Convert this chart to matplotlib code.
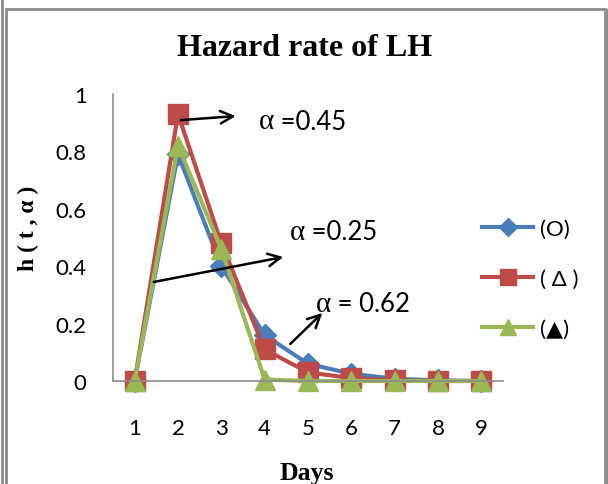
import matplotlib
matplotlib.use("Agg")
import matplotlib.pyplot as plt
from matplotlib.patches import Rectangle
from matplotlib.lines import Line2D

days = [1, 2, 3, 4, 5, 6, 7, 8, 9]
h_circle = [0, 0.79, 0.40, 0.16, 0.06, 0.025, 0.008, 0.002, 0.0]
h_delta = [0, 0.93, 0.48, 0.11, 0.03, 0.01, 0.002, 0.0, 0.0]
h_tri = [0, 0.82, 0.46, 0.005, 0.0, 0.0, 0.0, 0.0, 0.0]
labels = ["(O)", "( \u0394 )", "(\u25b2)"]
y_ticks = [0, 0.2, 0.4, 0.6, 0.8, 1]

SANS = ["Lato", "DejaVu Sans"]
SERIF = "Liberation Serif"

fig = plt.figure(figsize=(6.08, 4.85), dpi=100)
ax = fig.add_axes([113 / 608, 1 - 382 / 485, 390 / 608, 287 / 485])

ax.plot(days, h_circle, color="#4A7EBB", lw=3, marker="D", markersize=11, label=labels[0], clip_on=False)
ax.plot(days, h_delta, color="#BE4B48", lw=3, marker="s", markersize=14, label=labels[1], clip_on=False)
ax.plot(days, h_tri, color="#98B954", lw=3, marker="^", markersize=14, label=labels[2], clip_on=False)

ax.set_xlim(0.5, 9.5)
ax.set_ylim(0, 1)
ax.set_xticks(days)
ax.set_yticks(y_ticks)
ax.set_yticklabels(["0", "0.2", "0.4", "0.6", "0.8", "1"])
for s in ["top", "right"]:
    ax.spines[s].set_visible(False)
for s in ["left", "bottom"]:
    ax.spines[s].set_color("#8c8c8c")
    ax.spines[s].set_linewidth(1.2)
ax.tick_params(axis="both", length=0, labelsize=16)
ax.tick_params(axis="x", pad=27)
ax.tick_params(axis="y", pad=19)
for t in ax.get_xticklabels() + ax.get_yticklabels():
    t.set_family(SANS)

# annotations
arrow = dict(arrowstyle="->,head_length=0.9,head_width=0.45", lw=1.8, color="black",
             shrinkA=0, shrinkB=0)
notes = [
    ("=0.45", (3.33, 0.923), (2.06, 0.909), (3.86, 0.905)),
    ("=0.25", (4.43, 0.432), (1.44, 0.345), (4.59, 0.52)),
    ("= 0.62", (5.33, 0.237), (4.59, 0.129), (5.19, 0.27)),
]
for txt, head, tail, pos in notes:
    ax.annotate("", xy=head, xytext=tail, arrowprops=arrow)
    a = ax.text(pos[0], pos[1], "\u03b1", family=SERIF, fontsize=21, ha="left", va="center")
    ax.annotate(" " + txt, xy=(1, 0.5), xycoords=a, xytext=(0, 0), textcoords="offset points",
                family=SANS, fontsize=18.5, ha="left", va="center")

leg = ax.legend(loc="center left", bbox_to_anchor=(462 / 608, 1 - 280 / 485),
                bbox_transform=fig.transFigure, frameon=False, prop={"family": SANS, "size": 16},
                handlelength=2.3, handletextpad=0.3, labelspacing=1.35)
for h, ms in zip(leg.legend_handles, [9, 11, 11]):
    h.set_markersize(ms)

fig.text(305 / 608, 1 - 48 / 485, "Hazard rate of LH", family=SERIF, weight="bold",
         fontsize=23, ha="center", va="center")
fig.text(28 / 608, 1 - 228 / 485, "h ( t , \u03b1 )", family=SERIF, weight="bold",
         fontsize=17, ha="center", va="center", rotation=90)
fig.text(307 / 608, 1 - 474 / 485, "Days", family=SERIF, weight="bold",
         fontsize=18.5, ha="center", va="center")

# double chart border
fig.add_artist(Line2D([1.5 / 608, 1.5 / 608], [0, 1], color="#8c8c8c", lw=2))
fig.add_artist(Rectangle((5.5 / 608, -0.05), 599 / 608, 1.05 - 9.5 / 485, fill=False,
                         edgecolor="#8c8c8c", lw=2, transform=fig.transFigure))
fig.add_artist(Line2D([606.5 / 608, 606.5 / 608], [0, 1 - 9.5 / 485], color="#8c8c8c", lw=1))

fig.savefig("out.png", dpi=100)
